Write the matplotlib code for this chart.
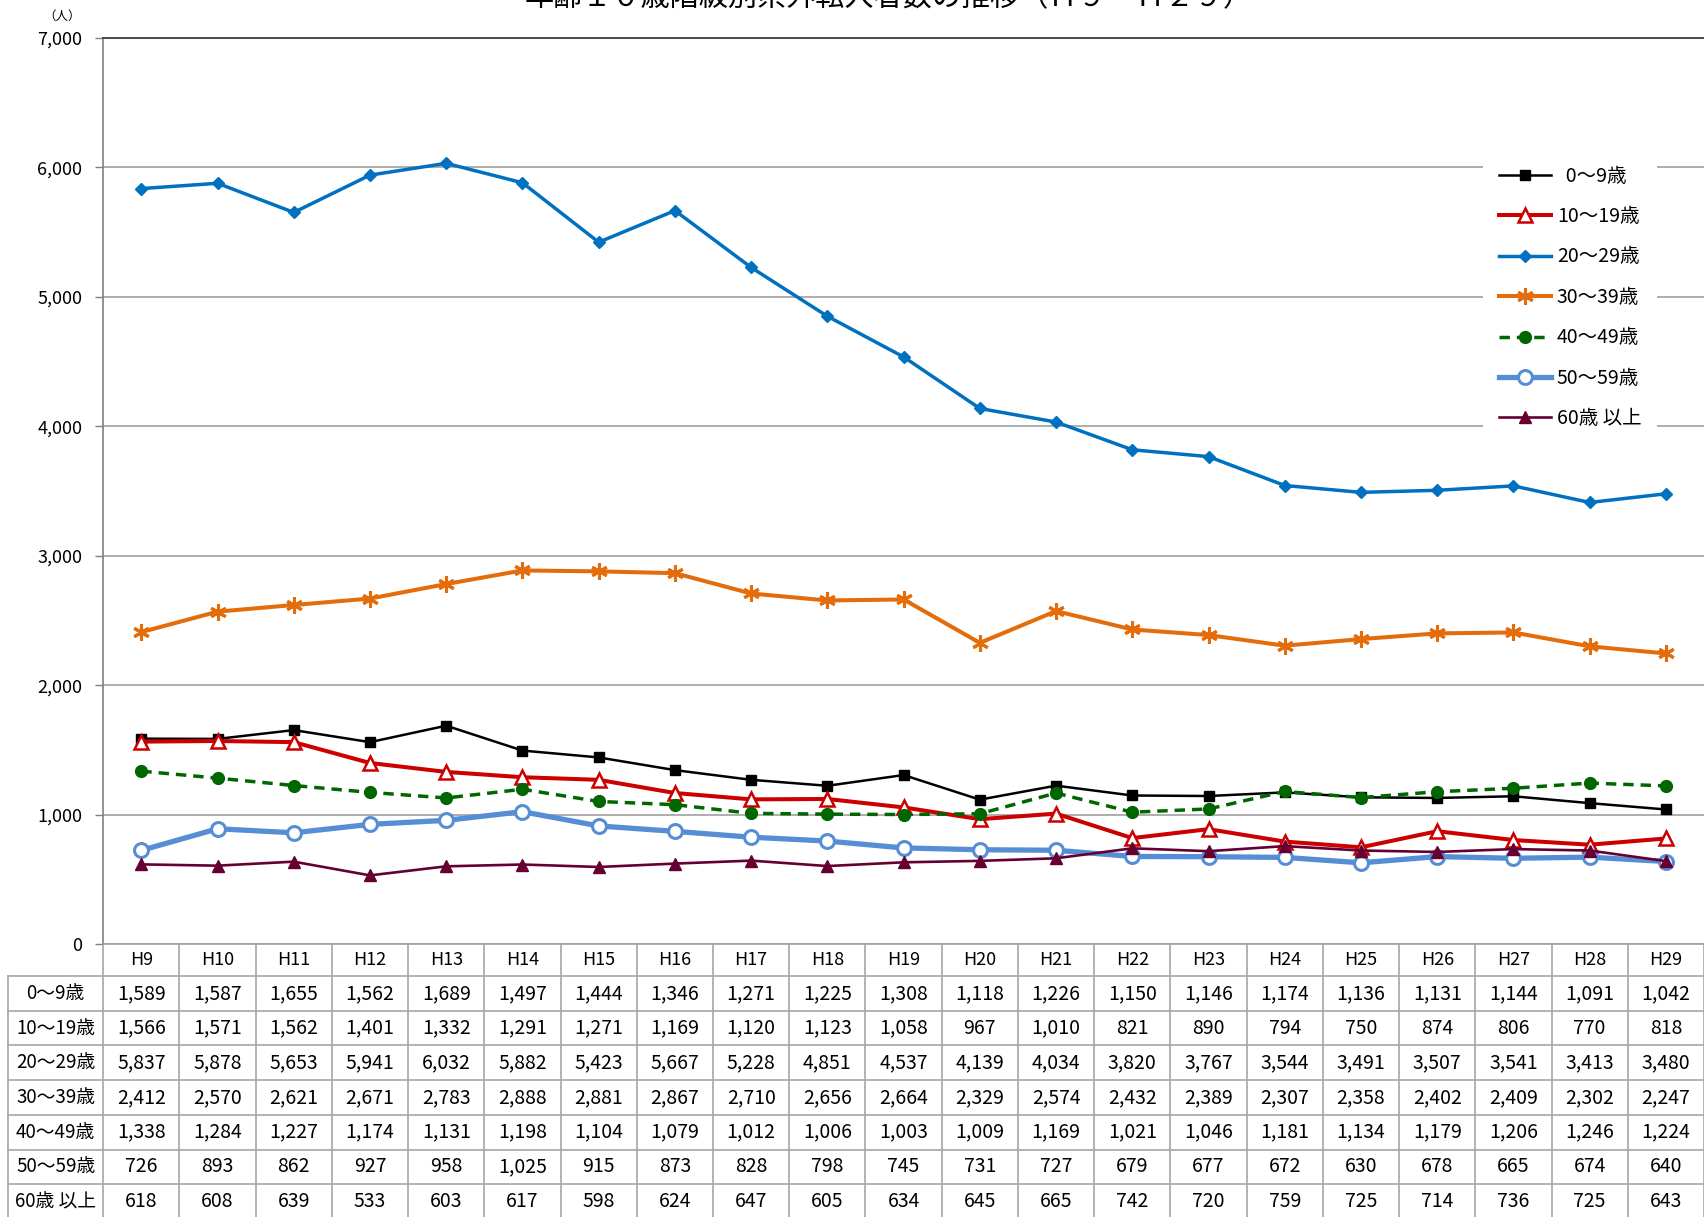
import matplotlib
matplotlib.use('Agg')
import matplotlib.pyplot as plt
import matplotlib.transforms as mtransforms
from matplotlib.ticker import FuncFormatter

plt.rcParams['font.family'] = ['Noto Sans CJK JP', 'DejaVu Sans']

years = ['H9', 'H10', 'H11', 'H12', 'H13', 'H14', 'H15', 'H16', 'H17', 'H18', 'H19',
         'H20', 'H21', 'H22', 'H23', 'H24', 'H25', 'H26', 'H27', 'H28', 'H29']
series_names = ['0～9歳', '10～19歳', '20～29歳', '30～39歳', '40～49歳', '50～59歳', '60歳 以上']
age_0_9 = [1589, 1587, 1655, 1562, 1689, 1497, 1444, 1346, 1271, 1225, 1308,
           1118, 1226, 1150, 1146, 1174, 1136, 1131, 1144, 1091, 1042]
age_10_19 = [1566, 1571, 1562, 1401, 1332, 1291, 1271, 1169, 1120, 1123, 1058,
             967, 1010, 821, 890, 794, 750, 874, 806, 770, 818]
age_20_29 = [5837, 5878, 5653, 5941, 6032, 5882, 5423, 5667, 5228, 4851, 4537,
             4139, 4034, 3820, 3767, 3544, 3491, 3507, 3541, 3413, 3480]
age_30_39 = [2412, 2570, 2621, 2671, 2783, 2888, 2881, 2867, 2710, 2656, 2664,
             2329, 2574, 2432, 2389, 2307, 2358, 2402, 2409, 2302, 2247]
age_40_49 = [1338, 1284, 1227, 1174, 1131, 1198, 1104, 1079, 1012, 1006, 1003,
             1009, 1169, 1021, 1046, 1181, 1134, 1179, 1206, 1246, 1224]
age_50_59 = [726, 893, 862, 927, 958, 1025, 915, 873, 828, 798, 745,
             731, 727, 679, 677, 672, 630, 678, 665, 674, 640]
age_60_over = [618, 608, 639, 533, 603, 617, 598, 624, 647, 605, 634,
               645, 665, 742, 720, 759, 725, 714, 736, 725, 643]
all_series = [age_0_9, age_10_19, age_20_29, age_30_39, age_40_49, age_50_59, age_60_over]

title = '年齢１０歳階級別県外転入者数の推移（Ｈ９～Ｈ２９）'
unit_label = '（人）'

W, H = 1704, 1217
fig = plt.figure(figsize=(W / 100, H / 100), dpi=100)
ax_left, ax_top, ax_bottom = 103.2, 38.0, 944.4
ax = fig.add_axes([ax_left / W, 1 - ax_bottom / H, 1 - ax_left / W, (ax_bottom - ax_top) / H])

x = list(range(len(years)))
styles = [
    dict(color='black', lw=1.8, marker='s', ms=7.5, mfc='black', mec='black'),
    dict(color='#CC0000', lw=2.9, marker='^', ms=10, mfc='white', mec='#CC0000', mew=1.8),
    dict(color='#0070C0', lw=2.5, marker='D', ms=6.5, mfc='#0070C0', mec='#0070C0'),
    dict(color='#E46C0A', lw=2.9, marker=(6, 2, 0), ms=12, mec='#E46C0A', mew=2.2),
    dict(color='#006600', lw=2.5, ls=(0, (3, 2)), marker='o', ms=8.5, mfc='#006600', mec='#006600'),
    dict(color='#558ED5', lw=3.8, marker='o', ms=10, mfc='white', mec='#558ED5', mew=2.2),
    dict(color='#660033', lw=1.9, marker='^', ms=8, mfc='#660033', mec='#660033'),
]
for name, vals, st in zip(series_names, all_series, styles):
    ax.plot(x, vals, label=name, zorder=3, clip_on=False, **st)

ax.set_xlim(-0.5, len(years) - 0.5)
ax.set_ylim(0, 7000)
ax.set_yticks(range(0, 7001, 1000))
ax.yaxis.set_major_formatter(FuncFormatter(lambda v, p: f'{int(v):,}'))
ax.set_xticks([])
ax.tick_params(axis='y', length=6, width=1, color='#808080', pad=9, labelsize=13)
ax.grid(axis='y', color='#A0A0A0', lw=1.2)
ax.set_axisbelow(True)
ax.spines['right'].set_visible(False)
ax.spines['top'].set_color('#404040')
ax.spines['top'].set_linewidth(1.3)
ax.spines['left'].set_color('#808080')
ax.spines['left'].set_linewidth(1.2)
ax.spines['bottom'].set_color('#A0A0A0')
ax.spines['bottom'].set_linewidth(1.2)

# legend
leg = ax.legend(loc='upper left', bbox_to_anchor=(1483 / W, 1 - 150 / H),
                bbox_transform=fig.transFigure, fontsize=14, frameon=True,
                framealpha=1, facecolor='white', edgecolor='none',
                handlelength=2.7, handletextpad=0.3, labelspacing=1.0,
                borderaxespad=0, borderpad=0.8)
leg.get_texts()[0].set_text('  ' + series_names[0])

# table under the axes
trans = mtransforms.blended_transform_factory(ax.transData, ax.transAxes)
axh = ax_bottom - ax_top

def yf(px):
    return (ax_bottom - px) / axh

header_bottom = 976.0
row_h = 34.7
label_left = -0.5 - (ax_left - 8) / ((W - ax_left) / len(years))
grid_c = '#A6A6A6'
table_bottom = header_bottom + row_h * len(series_names) + 2

for k in range(len(series_names)):
    yy = yf(header_bottom + k * row_h)
    ax.plot([label_left, len(years) - 0.5], [yy, yy], transform=trans, color=grid_c,
            lw=1.2, clip_on=False)
for k in range(len(years) + 1):
    xx = -0.5 + k
    ax.plot([xx, xx], [yf(ax_bottom), yf(table_bottom)], transform=trans,
            color=grid_c, lw=1.2, clip_on=False)
ax.plot([label_left, label_left], [yf(header_bottom), yf(table_bottom)], transform=trans,
        color=grid_c, lw=1.2, clip_on=False)

for i, yr in enumerate(years):
    ax.text(i, yf((ax_bottom + header_bottom) / 2), yr, transform=trans, ha='center',
            va='center', fontsize=13)
for r, (name, vals) in enumerate(zip(series_names, all_series)):
    yc = yf(header_bottom + (r + 0.5) * row_h)
    ax.text((label_left - 0.5) / 2, yc, name, transform=trans, ha='center', va='center',
            fontsize=13.5)
    for i, v in enumerate(vals):
        ax.text(i, yc, f'{v:,}', transform=trans, ha='center', va='center', fontsize=14)

fig.text(889 / W, 1 + 2 / H, title, ha='center', va='center', fontsize=21)
fig.text(62 / W, 1 - 16 / H, unit_label, ha='center', va='center', fontsize=9)

fig.savefig('out.png', dpi=100)
